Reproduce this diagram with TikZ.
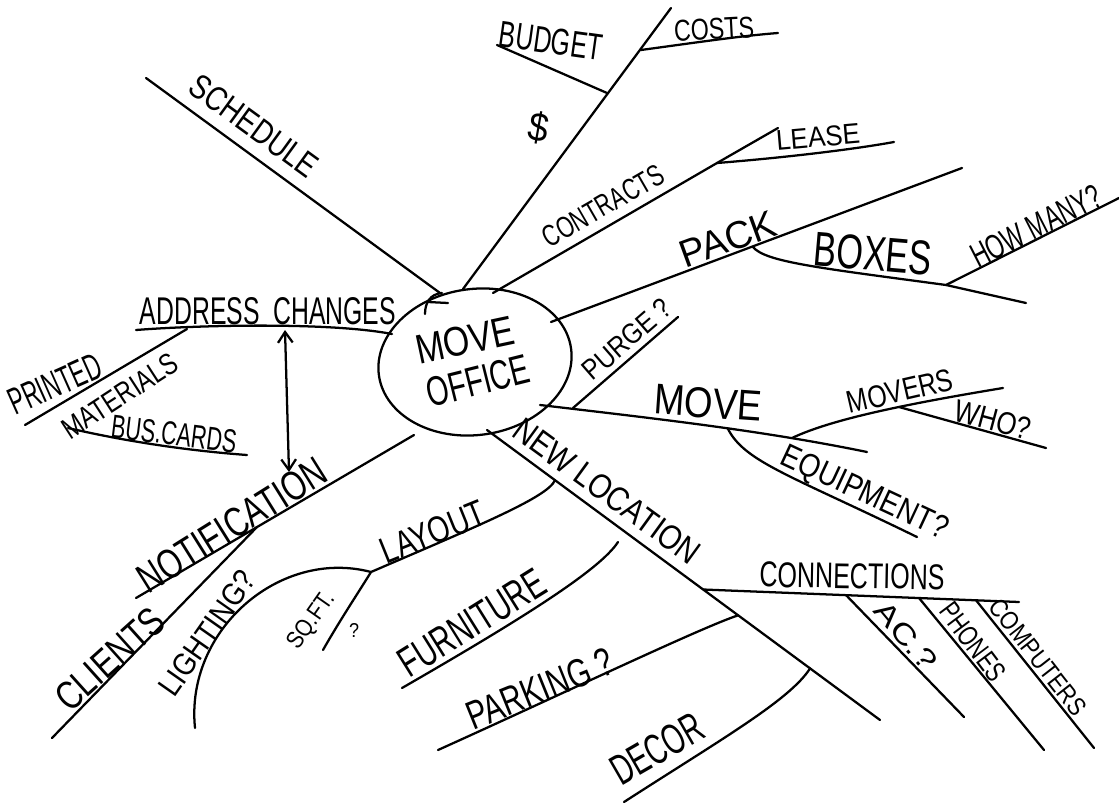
\documentclass[tikz,border=0pt]{standalone}
\usepackage{fontspec}
\setmainfont{Liberation Sans}
\usetikzlibrary{shapes.geometric,arrows.meta,calc}
\newlength\pxu
\setlength\pxu{0.75pt}
\newcommand\hw[3]{\resizebox{#1\pxu}{#2\pxu}{#3}}
\begin{document}
\begin{tikzpicture}[x=0.75pt,y=-0.75pt,
  line width=1.7pt, line cap=round, line join=round,
  lab/.style={inner sep=0pt, outer sep=0pt, anchor=center},
  hubshape/.style={draw, ellipse, inner sep=0pt, minimum width=194\pxu, minimum height=146\pxu},
  dbl/.style={{Straight Barb[length=8pt,width=11pt]}-{Straight Barb[length=8pt,width=11pt]}}]
\useasboundingbox (0,0) rectangle (1119,805);
\fill[white] (0,0) rectangle (1119,805);

% central topic
\node[hubshape, rotate=8] (hub) at (475,362) {};
\node[lab, rotate=12] (move) at (465,340) {\hw{100}{29}{MOVE}};
\node[lab, rotate=14] (office) at (478,381) {\hw{105}{29}{OFFICE}};
\draw (442,293) .. controls (430,294) and (425,303) .. (425,314);
\draw (428,302) -- (448,303);

% schedule
\coordinate (sch0) at (440,293); \coordinate (sch1) at (146,78);
\draw (sch0) -- (sch1);
\node[lab, rotate=-36] (schedule) at (254,126) {\hw{150}{24}{SCHEDULE}};

% budget
\coordinate (bm0) at (463,289); \coordinate (bm1) at (671,8);
\coordinate (bj) at (607,93); \coordinate (bud1) at (497,45);
\coordinate (cj) at (641,50); \coordinate (cst1) at (778,33);
\draw (bm0) -- (bm1);
\draw (bj) -- (bud1);
\draw (cj) .. controls (700,42) and (740,36) .. (cst1);
\node[lab, rotate=-8] (budget) at (551,41) {\hw{104}{26}{BUDGET}};
\node[lab, rotate=-10] (dollar) at (539,128) {\hw{20}{30}{\$}};
\node[lab, rotate=3] (costs) at (714,29) {\hw{80}{21}{COSTS}};

% contracts / lease
\coordinate (ct0) at (493,293); \coordinate (lj) at (717,163);
\coordinate (ls1) at (778,128); \coordinate (ls2) at (894,142);
\draw (ct0) -- (lj) -- (ls1);
\draw (lj) .. controls (780,158) and (850,150) .. (ls2);
\node[lab, rotate=30] (contracts) at (603,206) {\hw{135}{21}{CONTRACTS}};
\node[lab, rotate=5] (lease) at (818,137) {\hw{84}{20}{LEASE}};

% pack / boxes / how many
\coordinate (pk0) at (551,322); \coordinate (pk1) at (962,168);
\coordinate (bxj) at (753,247); \coordinate (hmj) at (946,285);
\coordinate (bx1) at (1026,303); \coordinate (hm1) at (1119,198);
\draw (pk0) -- (pk1);
\draw (bxj) .. controls (765,262) and (820,268) .. (hmj) -- (bx1);
\draw (hmj) -- (hm1);
\node[lab, rotate=20] (pack) at (728,239) {\hw{100}{27}{PACK}};
\node[lab, rotate=-5] (boxes) at (873,254) {\hw{118}{34}{BOXES}};
\node[lab, rotate=27] (howmany) at (1036,226) {\hw{142}{24}{HOW MANY?}};

% purge
\coordinate (pg0) at (573,408); \coordinate (pg1) at (678,317);
\draw (pg0) -- (pg1);
\node[lab, rotate=41] (purge) at (627,339) {\hw{108}{20}{PURGE ?}};

% move
\coordinate (mv0) at (540,405); \coordinate (mv1) at (867,452);
\coordinate (eqj) at (728,429); \coordinate (mvj) at (792,438);
\coordinate (mvs1) at (1003,388); \coordinate (whj) at (899,407);
\coordinate (wh1) at (1046,448); \coordinate (eq1) at (917,537);
\draw (mv0) .. controls (650,418) and (760,430) .. (mv1);
\draw (mvj) .. controls (830,420) and (900,405) .. (mvs1);
\draw (whj) -- (wh1);
\draw (eqj) .. controls (745,462) and (790,475) .. (eq1);
\node[lab, rotate=-4] (movebr) at (708,403) {\hw{108}{30}{MOVE}};
\node[lab, rotate=13] (movers) at (900,391) {\hw{108}{22}{MOVERS}};
\node[lab, rotate=-15] (who) at (993,420) {\hw{78}{22}{WHO?}};
\node[lab, rotate=-25] (equip) at (864,494) {\hw{180}{23}{EQUIPMENT?}};

% new location
\coordinate (nl0) at (487,430); \coordinate (nl1) at (880,720);
\draw (nl0) -- (nl1);
\coordinate (layj) at ($(nl0)!0.173!(nl1)$);
\coordinate (cnj) at ($(nl0)!0.55!(nl1)$);
\coordinate (pkj) at ($(nl0)!0.639!(nl1)$);
\coordinate (dej) at ($(nl0)!0.822!(nl1)$);
\node[lab, rotate=-36] (newloc) at (607,491) {\hw{222}{24}{NEW LOCATION}};

% connections
\coordinate (cn1) at (1019,602);
\draw (cnj) -- (cn1);
\coordinate (acj) at ($(cnj)!0.4525!(cn1)$);
\coordinate (phj) at ($(cnj)!0.6835!(cn1)$);
\coordinate (coj) at ($(cnj)!0.864!(cn1)$);
\draw (acj) -- (964,717);
\draw (phj) -- (1044,750);
\draw (coj) -- (1094,748);
\node[lab, rotate=-1] (connect) at (852,576) {\hw{185}{25}{CONNECTIONS}};
\node[lab, rotate=-50] (ac) at (906,636) {\hw{80}{20}{AC.?}};
\node[lab, rotate=-53] (phones) at (973,642) {\hw{90}{20}{PHONES}};
\node[lab, rotate=-52] (computers) at (1038,657) {\hw{140}{18}{COMPUTERS}};

% decor, parking, furniture
\coordinate (de1) at (624,802);
\draw (dej) .. controls (790,700) and (720,740) .. (de1);
\node[lab, rotate=30] (decor) at (657,749) {\hw{100}{30}{DECOR}};
\coordinate (pa1) at (438,750);
\draw (pkj) .. controls (700,628) and (560,695) .. (pa1);
\node[lab, rotate=22] (parking) at (540,689) {\hw{155}{28}{PARKING ?}};
\coordinate (fu0) at (618,542); \coordinate (fu1) at (402,688);
\draw (fu0) .. controls (600,570) and (520,620) .. (fu1);
\node[lab, rotate=32] (furniture) at (472,623) {\hw{165}{29}{FURNITURE}};

% layout, lighting, sq ft
\coordinate (lyj2) at (371,572);
\draw (layj) .. controls (548,497) and (480,525) .. (lyj2);
\draw (lyj2) .. controls (280,548) and (185,630) .. (195,728);
\draw (lyj2) .. controls (360,590) and (340,620) .. (323,650);
\node[lab, rotate=22] (layout) at (433,532) {\hw{110}{26}{LAYOUT}};
\node[lab, rotate=55] (lighting) at (207,633) {\hw{145}{22}{LIGHTING?}};
\node[lab, rotate=55] (sqft) at (312,621) {\hw{64}{17}{SQ.FT.}};
\node[lab] (sqq) at (354,630) {\hw{10}{14}{?}};

% notification, clients
\coordinate (nt0) at (414,435); \coordinate (nt1) at (136,598);
\draw (nt0) -- (nt1);
\coordinate (clj) at ($(nt0)!0.565!(nt1)$);
\draw (clj) -- (52,738);
\node[lab, rotate=32] (notif) at (232,525) {\hw{215}{29}{NOTIFICATION}};
\node[lab, rotate=42] (clients) at (110,659) {\hw{132}{28}{CLIENTS}};

% address changes
\coordinate (ad0) at (392,334); \coordinate (ad1) at (136,330);
\draw (ad0) .. controls (330,322) and (200,325) .. (ad1);
\node[lab] (address) at (268,311) {\hw{256}{27}{ADDRESS\ \ CHANGES}};
\coordinate (pr0) at (187,329); \coordinate (pr1) at (25,425);
\draw (pr0) -- (pr1);
\node[lab, rotate=24] (printed) at (55,384) {\hw{98}{26}{PRINTED}};
\node[lab, rotate=33] (materials) at (120,396) {\hw{132}{21}{MATERIALS}};
\coordinate (bc0) at (68,428); \coordinate (bc1) at (247,455);
\draw (bc0) .. controls (120,440) and (180,450) .. (bc1);
\node[lab, rotate=-7] (buscards) at (174,434) {\hw{126}{23}{BUS.CARDS}};

% double arrow
\coordinate (ar0) at (285,330); \coordinate (ar1) at (289,472);
\draw[dbl] (ar0) -- (ar1);
\end{tikzpicture}
\end{document}
